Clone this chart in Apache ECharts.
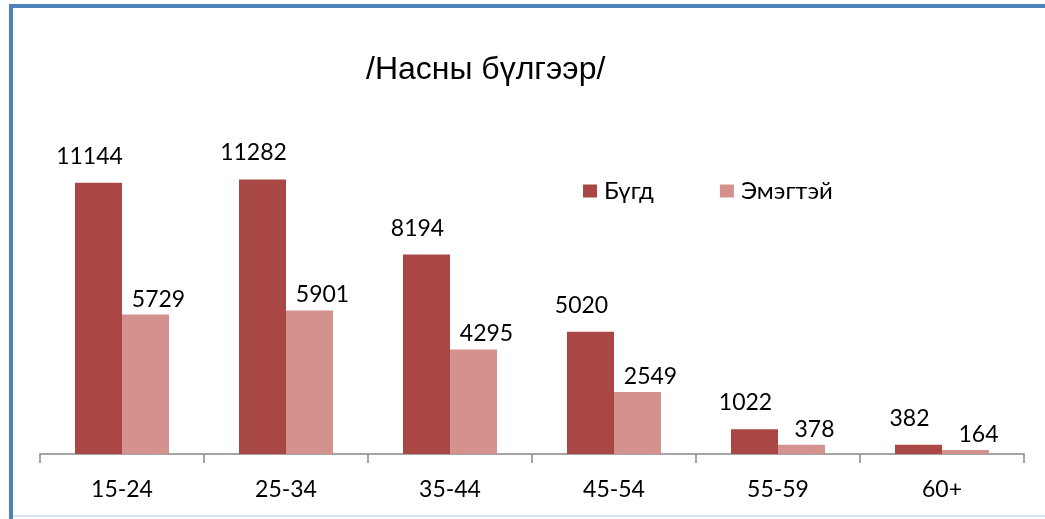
<!DOCTYPE html>
<html>
<head>
<meta charset="utf-8">
<script src="https://cdn.jsdelivr.net/npm/echarts@6/dist/echarts.min.js"></script>
<style>
  html, body { margin: 0; padding: 0; background: #fff; }
  #chart { width: 1045px; height: 519px; }
</style>
</head>
<body>
<div id="chart"></div>
<script>
var categories = ['15-24', '25-34', '35-44', '45-54', '55-59', '60+'];
var totalValues = [11144, 11282, 8194, 5020, 1022, 382];
var femaleValues = [5729, 5901, 4295, 2549, 378, 164];
var seriesNames = ['Бүгд', 'Эмэгтэй'];

var chart = echarts.init(document.getElementById('chart'));

function barLabel(distance, dx) {
  return {
    show: true,
    position: 'top',
    distance: distance,
    offset: [dx, 0],
    color: '#000',
    fontFamily: 'Lato',
    fontSize: 23
  };
}

chart.setOption({
  animation: false,
  title: {
    text: '/Насны бүлгээр/',
    left: 361,
    top: 49,
    textStyle: { fontFamily: 'Liberation Sans', fontWeight: 'normal', fontSize: 32, color: '#000' }
  },
  legend: {
    left: 578,
    top: 174,
    itemWidth: 14,
    itemHeight: 13,
    itemGap: 66,
    icon: 'rect',
    textStyle: { fontFamily: 'Lato', fontSize: 24, color: '#000', padding: [0, 0, 0, 2] },
    data: seriesNames
  },
  grid: { left: 40, right: 21, top: 162, bottom: 65 },
  xAxis: {
    type: 'category',
    data: categories,
    axisLine: { lineStyle: { color: '#868686', width: 1.5 } },
    axisTick: { show: true, length: 9, lineStyle: { color: '#868686', width: 1.5 } },
    axisLabel: { color: '#000', fontFamily: 'Lato', fontSize: 23, margin: 24 }
  },
  yAxis: {
    type: 'value',
    min: 0,
    max: 12000,
    show: false
  },
  graphic: [
    { type: 'rect', shape: { x: 9, y: 4, width: 1036, height: 4 }, style: { fill: '#4F81BD' } },
    { type: 'rect', shape: { x: 9, y: 4, width: 4, height: 515 }, style: { fill: '#4F81BD' } },
    { type: 'rect', shape: { x: 13, y: 515, width: 1032, height: 2 }, style: { fill: '#DCE6F2' } }
  ],
  series: [
    {
      name: seriesNames[0],
      type: 'bar',
      data: totalValues,
      barWidth: 47,
      barGap: '0%',
      itemStyle: { color: '#A94744' },
      label: barLabel(15, -9)
    },
    {
      name: seriesNames[1],
      type: 'bar',
      data: femaleValues,
      barWidth: 47,
      barGap: '0%',
      itemStyle: { color: '#D4928F' },
      label: barLabel(4, 13)
    }
  ]
});
</script>
</body>
</html>
